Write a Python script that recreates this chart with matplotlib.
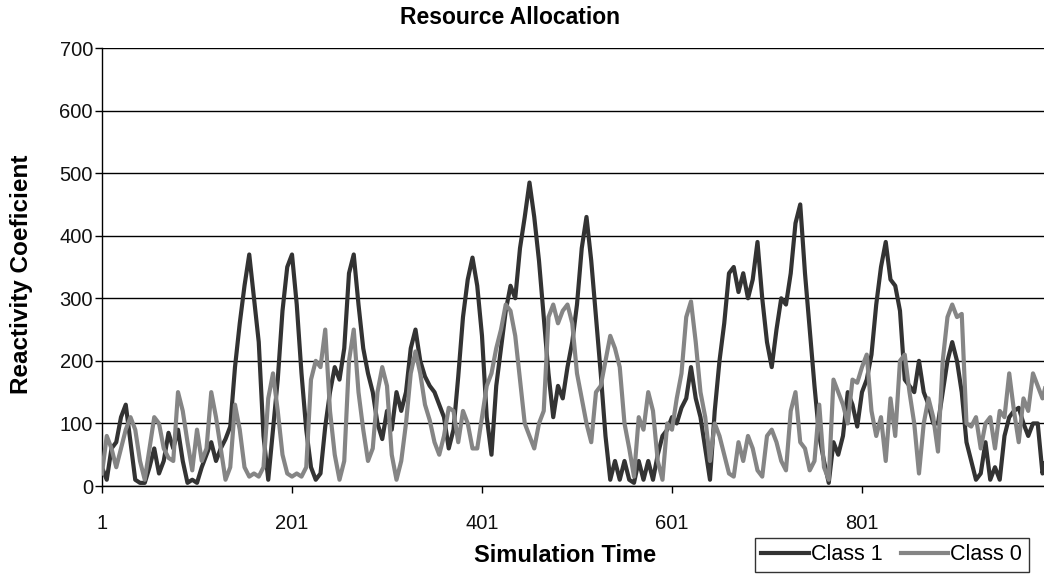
import matplotlib
matplotlib.use("Agg")
import matplotlib.pyplot as plt
import numpy as np

plt.rcParams['font.family'] = ['Liberation Sans', 'DejaVu Sans']

# Simulation time sampled every 5 steps
time = list(range(1, 1000, 5))

class1 = [30, 10, 60, 70, 110, 130, 70, 10, 5, 5,
          30, 60, 20, 40, 85, 60, 90, 40, 5, 10,
          5, 30, 50, 70, 40, 60, 75, 95, 190, 260,
          320, 370, 300, 230, 80, 10, 90, 170, 280, 350,
          370, 290, 180, 90, 30, 10, 20, 95, 150, 190,
          170, 220, 340, 370, 290, 220, 180, 150, 100, 75,
          120, 90, 150, 120, 150, 220, 250, 200, 175, 160,
          150, 130, 110, 60, 90, 175, 270, 330, 365, 320,
          240, 110, 50, 160, 220, 280, 320, 300, 380, 430,
          485, 430, 360, 270, 180, 110, 160, 140, 190, 230,
          290, 380, 430, 360, 270, 180, 80, 10, 40, 10,
          40, 10, 5, 40, 10, 40, 10, 50, 80, 90,
          110, 100, 125, 140, 190, 140, 110, 60, 10, 120,
          200, 260, 340, 350, 310, 340, 300, 330, 390, 300,
          230, 190, 250, 300, 290, 340, 420, 450, 340, 250,
          160, 80, 40, 5, 70, 50, 80, 150, 130, 95,
          150, 170, 210, 290, 350, 390, 330, 320, 280, 170,
          160, 150, 200, 150, 130, 100, 100, 150, 200, 230,
          200, 150, 70, 40, 10, 20, 70, 10, 30, 10,
          80, 110, 120, 125, 100, 80, 100, 100, 20, 50]

class0 = [20, 80, 60, 30, 60, 90, 110, 90, 40, 10,
          60, 110, 100, 60, 45, 40, 150, 120, 70, 25,
          90, 40, 60, 150, 110, 60, 10, 30, 130, 90,
          30, 15, 20, 15, 30, 140, 180, 120, 50, 20,
          15, 20, 15, 30, 170, 200, 190, 250, 120, 50,
          10, 40, 200, 250, 150, 90, 40, 60, 150, 190,
          160, 50, 10, 40, 100, 180, 215, 180, 130, 105,
          70, 50, 80, 125, 120, 70, 120, 100, 60, 60,
          110, 160, 180, 220, 250, 290, 280, 240, 170, 100,
          80, 60, 100, 120, 270, 290, 260, 280, 290, 260,
          180, 140, 100, 70, 150, 160, 200, 240, 220, 190,
          100, 60, 15, 110, 90, 150, 120, 40, 10, 100,
          90, 140, 180, 270, 295, 230, 150, 110, 40, 100,
          80, 50, 20, 15, 70, 40, 80, 60, 25, 15,
          80, 90, 70, 40, 25, 120, 150, 70, 60, 25,
          40, 130, 30, 10, 170, 150, 130, 100, 170, 165,
          190, 210, 120, 80, 110, 40, 140, 80, 200, 210,
          150, 100, 20, 100, 140, 110, 55, 200, 270, 290,
          270, 275, 100, 95, 110, 60, 100, 110, 60, 120,
          110, 180, 120, 70, 140, 120, 180, 160, 140, 170]

xtick_vals = [1, 201, 401, 601, 801]
ytick_vals = [0, 100, 200, 300, 400, 500, 600, 700]

W, H = 1044, 577
fig = plt.figure(figsize=(W / 100, H / 100), dpi=100)
ax = fig.add_axes([102 / W, 1 - 486 / H, (1044 - 102) / W, (486 - 48) / H])

l1, = ax.plot(time, class1, color='#333333', lw=3.0, label='Class 1', zorder=3)
l0, = ax.plot(time, class0, color='#858585', lw=3.0, label='Class 0', zorder=4)

ax.set_xlim(1, 992.6)
ax.set_ylim(0, 700)
ax.set_yticks(ytick_vals)
ax.set_xticks(xtick_vals)
ax.yaxis.grid(True, color='black', lw=1.0)
ax.set_axisbelow(True)
for s in ['top', 'right']:
    ax.spines[s].set_visible(False)
for s in ['left', 'bottom']:
    ax.spines[s].set_color('black')
    ax.spines[s].set_linewidth(1.0)
ax.tick_params(axis='both', direction='out', length=5, width=1, color='black',
               labelsize=14.5, labelcolor='#111111')
ax.tick_params(axis='y', pad=1.5)
ax.tick_params(axis='x', pad=15)

fig.text(510 / W, 1 - 18 / H, 'Resource Allocation', ha='center', va='center',
         fontsize=16.5, fontweight='bold')
fig.text(22 / W, 1 - 274 / H, 'Reactivity Coeficient', ha='center', va='center',
         rotation=90, fontsize=17.5, fontweight='bold')
fig.text(565 / W, 1 - 556 / H, 'Simulation Time', ha='center', va='center',
         fontsize=17, fontweight='bold')

leg = fig.legend(handles=[l1, l0], loc='upper left',
                 bbox_to_anchor=(755 / W, 1 - 538 / H), ncol=2, fontsize=15.5,
                 frameon=True, fancybox=False, edgecolor='black',
                 handlelength=2.2, handletextpad=0.1, columnspacing=0.85,
                 borderpad=0.3, borderaxespad=0)
leg.get_frame().set_linewidth(1.0)

fig.savefig('out.png', dpi=100)
